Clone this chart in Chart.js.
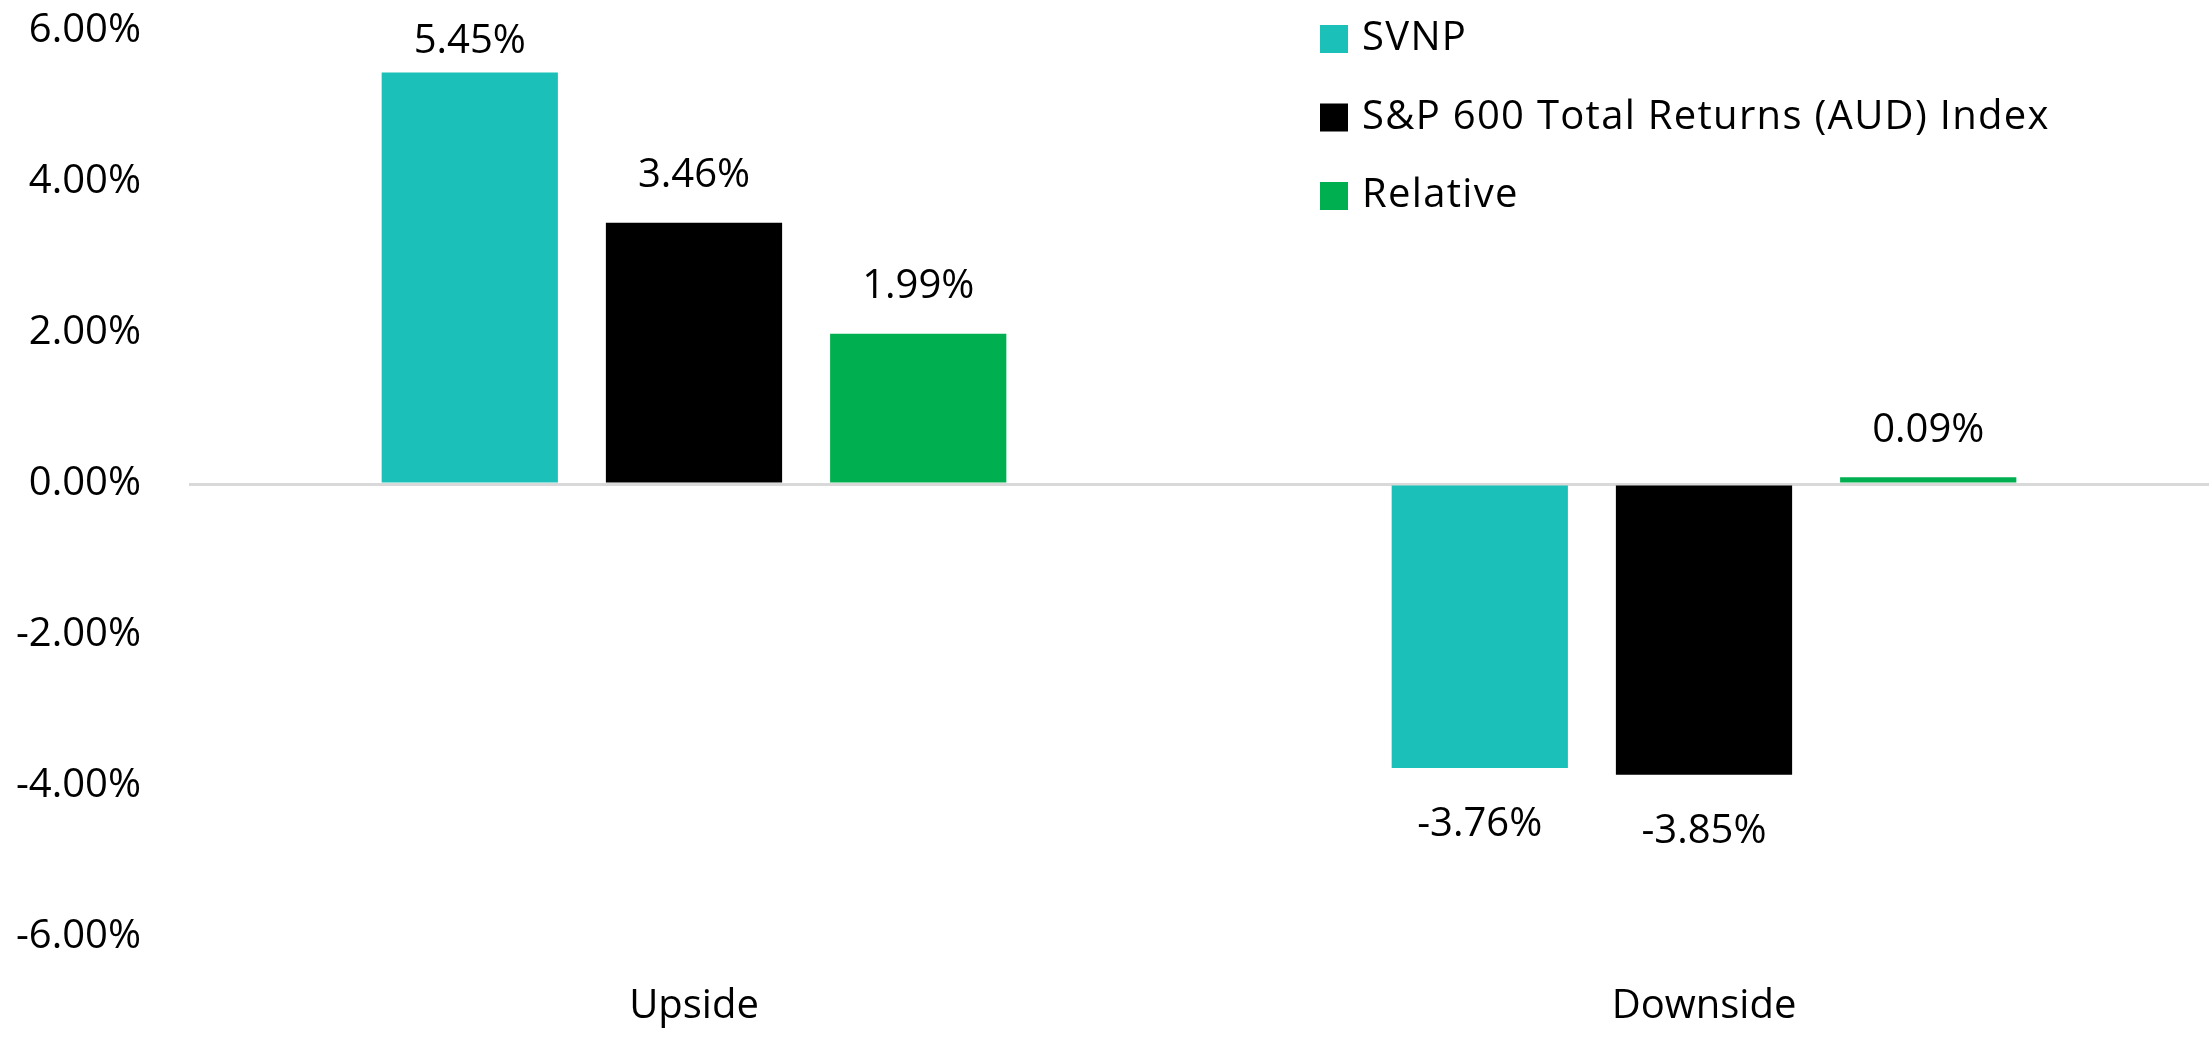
<!DOCTYPE html>
<html>
<head>
<meta charset="utf-8">
<script src="https://cdn.jsdelivr.net/npm/chart.js@4.4.1/dist/chart.umd.min.js"></script>
<style>
  html, body { margin: 0; padding: 0; background: #fff; }
  #wrap { width: 2209px; height: 1039px; position: relative; }
</style>
</head>
<body>
<div id="wrap"><canvas id="captureChart"></canvas></div>
<script>
// 차트 데이터
const categories = ['Upside', 'Downside'];
const seriesNames = ['SVNP', 'S&P 600 Total Returns (AUD) Index', 'Relative'];
const svnpValues = [5.45, -3.76];
const indexValues = [3.46, -3.85];
const relativeValues = [1.99, 0.09];
const seriesColors = ['#1BC1B9', '#000000', '#00B050'];
const yTicks = [6, 4, 2, 0, -2, -4, -6];

const FONT = '"Open Sans", Lato, sans-serif';

// 막대 위/아래 값 라벨
const valueLabels = {
    id: 'valueLabels',
    afterDatasetsDraw(chart) {
        const ctx = chart.ctx;
        ctx.save();
        ctx.font = '40px ' + FONT;
        ctx.fillStyle = '#000';
        ctx.textAlign = 'center';
        ctx.textBaseline = 'middle';
        chart.data.datasets.forEach((ds, i) => {
            chart.getDatasetMeta(i).data.forEach((bar, j) => {
                const v = ds.data[j];
                const y = v >= 0 ? Math.max(bar.y - 47, 42) : bar.y + 57;
                ctx.fillText(v.toFixed(2) + '%', bar.x, y);
            });
        });
        ctx.restore();
    }
};

// 우측 상단 범례
const sideLegend = {
    id: 'sideLegend',
    afterDraw(chart) {
        const ctx = chart.ctx;
        ctx.save();
        ctx.font = '40px ' + FONT;
        ctx.letterSpacing = '1.3px';
        ctx.textAlign = 'left';
        ctx.textBaseline = 'middle';
        chart.data.datasets.forEach((ds, i) => {
            const y = 39 + i * 78.5;
            ctx.fillStyle = ds.backgroundColor;
            ctx.fillRect(1320, y - 14, 28, 28);
            ctx.fillStyle = '#000';
            ctx.fillText(ds.label, 1362, y);
        });
        ctx.restore();
    }
};

const datasetValues = [svnpValues, indexValues, relativeValues];

new Chart(document.getElementById('captureChart').getContext('2d'), {
    type: 'bar',
    data: {
        labels: categories,
        datasets: seriesNames.map((name, i) => ({
            label: name,
            data: datasetValues[i],
            backgroundColor: seriesColors[i],
            categoryPercentage: 0.666,
            barPercentage: 0.786
        }))
    },
    options: {
        responsive: true,
        maintainAspectRatio: false,
        animation: false,
        layout: { padding: { top: 31, right: 0, bottom: 0, left: 0 } },
        plugins: { legend: { display: false }, tooltip: { enabled: false } },
        scales: {
            x: {
                grid: { display: false },
                border: { display: false },
                ticks: { color: '#000', font: { family: FONT, size: 40 }, padding: 38 },
                afterFit(scale) { scale.height = 102; }
            },
            y: {
                min: -6,
                max: 6,
                afterBuildTicks(scale) { scale.ticks = yTicks.map(v => ({ value: v })); },
                grid: {
                    drawTicks: false,
                    color: c => (c.tick && c.tick.value === 0 ? '#d9d9d9' : 'rgba(0,0,0,0)'),
                    lineWidth: 3
                },
                border: { display: false },
                ticks: {
                    color: '#000',
                    font: { family: FONT, size: 40 },
                    padding: 48,
                    callback: v => v.toFixed(2) + '%'
                },
                afterFit(scale) {
                    scale.width = 189;
                    scale.paddingTop = 0;
                    scale.paddingBottom = 0;
                }
            }
        }
    },
    plugins: [valueLabels, sideLegend]
});
</script>
</body>
</html>
